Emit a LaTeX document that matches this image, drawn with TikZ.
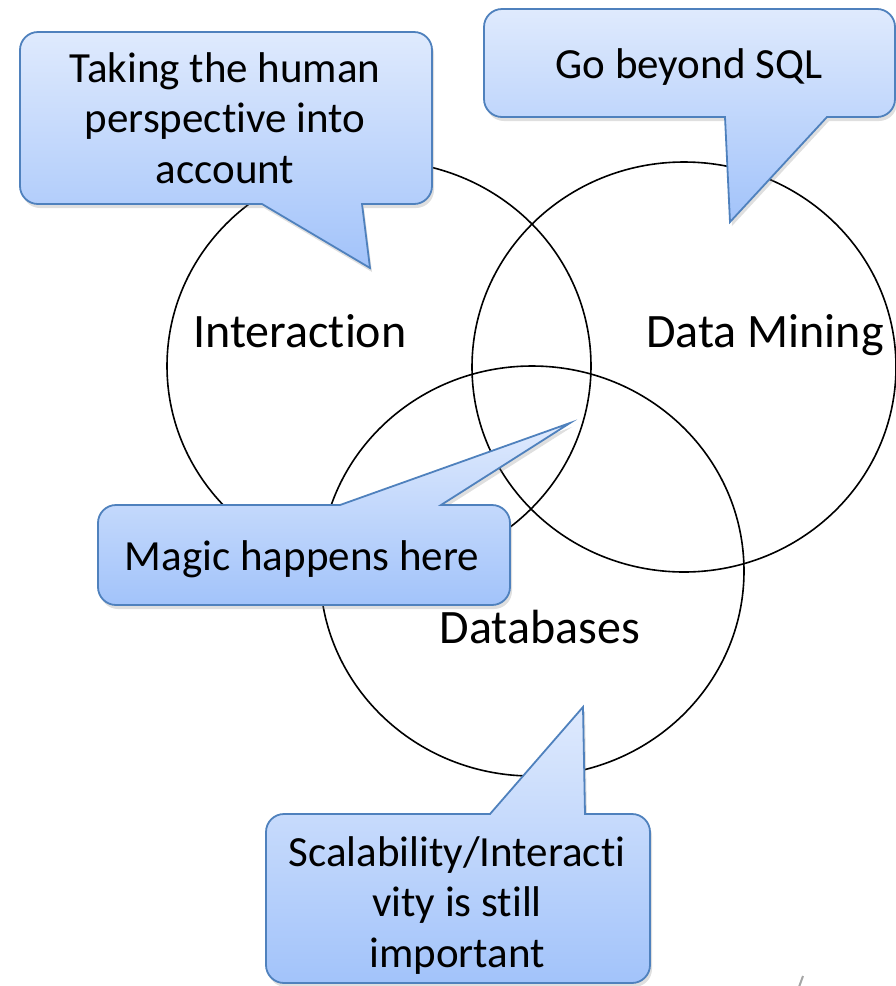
\documentclass[tikz,border=0pt]{standalone}
\usepackage{fontspec}
\setmainfont{Carlito}[Ligatures={NoCommon}]
\usepackage{tikz}
\usetikzlibrary{shapes,shadows}
\definecolor{bubbleblue}{RGB}{79,129,189}
\definecolor{bubbletop}{RGB}{223,234,253}
\definecolor{bubblebottom}{RGB}{162,195,250}

\begin{document}
\begin{tikzpicture}[x=1pt, y=-1pt,
    venn/.style={ellipse, draw=black, line width=1.6pt, minimum width=424pt, minimum height=410pt, inner sep=0pt},
    topic/.style={anchor=base, inner sep=0pt, font=\fontsize{48}{56}\selectfont},
    bubble/.style={draw=bubbleblue, line width=1.8pt, top color=bubbletop, bottom color=bubblebottom,
        drop shadow={opacity=0.25, shadow xshift=2pt, shadow yshift=-4pt}},
    bubbletext/.style={anchor=base, align=center, inner sep=0pt, font=\fontsize{43}{50.5}\selectfont}]

\useasboundingbox (0,0) rectangle (895,986);

% Venn circles
\node[venn] (interaction) at (379,366) {};
\node[venn] (mining) at (684,367) {};
\node[venn] (databases) at (532,571) {};

\node[topic] (interactionname) at (300,347) {Interaction};
\node[topic] (miningname) at (765,347) {Data Mining};
\node[topic] (databasesname) at (540,643) {Databases};

% Callouts
\path[bubble] (262,204) -- (370,268) -- (362,204) -- (397,204) [rounded corners=18pt] -- (432,204) -- (432,32) -- (20,32) -- (20,204) -- (141,204) [sharp corners] -- cycle;
\path[bubble] (725,117) -- (730,222) -- (827,117) -- (861,117) [rounded corners=18pt] -- (895,117) -- (895,9) -- (484,9) -- (484,117) -- (604,117) [sharp corners] -- cycle;
\path[bubble] (340,505) -- (570,423) -- (441,505) -- (475,505) [rounded corners=18pt] -- (510,505) -- (510,605) -- (98,605) -- (98,505) -- (219,505) [sharp corners] -- cycle;
\path[bubble] (490,814) -- (583,707) -- (585,814) -- (617,814) [rounded corners=18pt] -- (650,814) -- (650,983) -- (266,983) -- (266,814) -- (378,814) [sharp corners] -- cycle;

% base anchor sits on the last line
\node[bubbletext] (human) at (225,183) {Taking the human\\perspective into\\account};
\node[bubbletext] (sql) at (689,78) {Go beyond SQL};
\node[bubbletext] (magic) at (302,570) {Magic happens here};
\node[bubbletext] (scale) at (457,967) {Scalability/Interacti\\vity is still\\important};

% page number remnant
\draw[gray!70, line width=2pt] (799,987) -- (803,976);
\end{tikzpicture}
\end{document}
